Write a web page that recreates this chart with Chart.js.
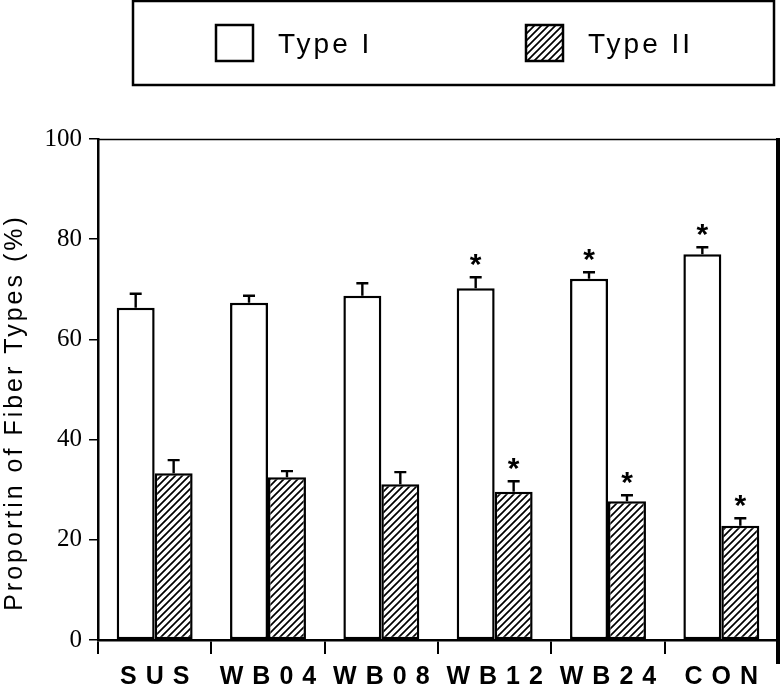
<!DOCTYPE html>
<html>
<head>
<meta charset="utf-8">
<script src="https://cdn.jsdelivr.net/npm/chart.js@4.4.1/dist/chart.umd.min.js"></script>
<style>
  html, body { margin: 0; padding: 0; background: #fff; }
  #wrap { width: 783px; height: 688px; }
</style>
</head>
<body>
<div id="wrap"><canvas id="c" width="783" height="688"></canvas></div>
<script>
const categories = ['SUS', 'WB04', 'WB08', 'WB12', 'WB24', 'CON'];
const seriesNames = ['Type I', 'Type II'];
const typeI = [66.3, 67.3, 68.7, 70.2, 72.1, 77.0];
const typeIErr = [2.8, 1.4, 2.5, 2.2, 1.3, 1.4];
const typeII = [33.3, 32.5, 31.1, 29.6, 27.7, 22.8];
const typeIIErr = [2.6, 1.2, 2.4, 2.1, 1.2, 1.5];
const sigI = [false, false, false, true, true, true];
const sigII = [false, false, false, true, true, true];
const yTicks = [0, 20, 40, 60, 80, 100];
const yTitle = 'Proportin of Fiber Types (%)';

function hatch() {
  const s = 7;
  const c = document.createElement('canvas');
  c.width = s; c.height = s;
  const g = c.getContext('2d');
  g.fillStyle = '#fff';
  g.fillRect(0, 0, s, s);
  g.strokeStyle = '#000';
  g.lineWidth = 1.7;
  g.beginPath();
  g.moveTo(-1, s + 1); g.lineTo(s + 1, -1);
  g.moveTo(-1, 1); g.lineTo(1, -1);
  g.moveTo(s - 1, s + 1); g.lineTo(s + 1, s - 1);
  g.stroke();
  return g.createPattern(c, 'repeat');
}
const hatchPattern = hatch();
const errs = [typeIErr, typeIIErr];
const sigs = [sigI, sigII];

const decor = {
  id: 'decor',
  afterDraw(chart) {
    const ctx = chart.ctx;
    const ys = chart.scales.y, xs = chart.scales.x;
    const area = chart.chartArea;
    ctx.save();
    ctx.strokeStyle = '#000';
    ctx.fillStyle = '#000';

    // top frame line and right thick line
    ctx.lineWidth = 1.5;
    ctx.beginPath();
    ctx.moveTo(area.left, area.top + 0.5);
    ctx.lineTo(area.right, area.top + 0.5);
    ctx.stroke();
    ctx.lineWidth = 4;
    ctx.beginPath();
    ctx.moveTo(area.right, area.top - 1);
    ctx.lineTo(area.right, area.bottom + 24);
    ctx.stroke();

    // error bars and stars
    chart.data.datasets.forEach((ds, di) => {
      const meta = chart.getDatasetMeta(di);
      meta.data.forEach((el, i) => {
        const top = ys.getPixelForValue(ds.data[i] + errs[di][i]);
        ctx.lineWidth = 2.4;
        ctx.beginPath();
        ctx.moveTo(el.x, el.y);
        ctx.lineTo(el.x, top);
        ctx.moveTo(el.x - 6, top);
        ctx.lineTo(el.x + 6, top);
        ctx.stroke();
        if (sigs[di][i]) {
          ctx.font = 'bold 30px "Liberation Sans", Arial, sans-serif';
          ctx.textAlign = 'center';
          ctx.textBaseline = 'alphabetic';
          try { ctx.letterSpacing = '0px'; } catch (e) {}
          ctx.fillText('*', el.x, top - 21 + 18);
        }
      });
    });

    // x category labels
    ctx.font = 'bold 25px "Liberation Sans", Arial, sans-serif';
    ctx.textBaseline = 'middle';
    ctx.textAlign = 'left';
    const ls = 9;
    try { ctx.letterSpacing = ls + 'px'; } catch (e) {}
    categories.forEach((c, i) => {
      const cx = xs.getPixelForValue(i);
      const w = ctx.measureText(c).width - ls;
      ctx.fillText(c, cx - w / 2, 677);
    });

    // y title
    ctx.font = '25px "Liberation Sans", Arial, sans-serif';
    const ls2 = 3;
    try { ctx.letterSpacing = ls2 + 'px'; } catch (e) {}
    ctx.translate(15, 414);
    ctx.rotate(-Math.PI / 2);
    const tw = ctx.measureText(yTitle).width - ls2;
    ctx.textBaseline = 'middle';
    ctx.fillText(yTitle, -tw / 2, 0);
    ctx.setTransform(1, 0, 0, 1, 0, 0);

    // legend box
    ctx.lineWidth = 2.5;
    ctx.strokeRect(133, 1, 641, 84);
    const legendX = [216, 526];
    chart.data.datasets.forEach((ds, di) => {
      const x0 = legendX[di];
      ctx.fillStyle = ds.backgroundColor;
      ctx.fillRect(x0, 25, 37, 36);
      ctx.lineWidth = 2.5;
      ctx.strokeRect(x0, 25, 37, 36);
      ctx.fillStyle = '#000';
      ctx.font = '28px "Liberation Sans", Arial, sans-serif';
      try { ctx.letterSpacing = '3px'; } catch (e) {}
      ctx.textBaseline = 'alphabetic';
      ctx.fillText(ds.label, x0 + 62, 53);
    });
    ctx.restore();
  }
};

new Chart(document.getElementById('c'), {
  type: 'bar',
  data: {
    labels: categories,
    datasets: [
      { label: seriesNames[0], data: typeI, backgroundColor: '#ffffff', borderColor: '#000', borderWidth: 2.5, borderSkipped: false },
      { label: seriesNames[1], data: typeII, backgroundColor: hatchPattern, borderColor: '#000', borderWidth: 2.5, borderSkipped: false }
    ]
  },
  options: {
    responsive: false,
    animation: false,
    devicePixelRatio: 1,
    layout: { padding: { top: 139, right: 5, left: 0, bottom: 0 } },
    datasets: { bar: { categoryPercentage: 0.67, barPercentage: 1.0 } },
    plugins: { legend: { display: false }, tooltip: { enabled: false } },
    scales: {
      x: {
        offset: true,
        grid: { offset: true, drawOnChartArea: false, drawTicks: true, tickLength: 14, color: '#000', lineWidth: 2 },
        border: { display: true, color: '#000', width: 2.5 },
        ticks: { color: 'rgba(0,0,0,0)', maxRotation: 0, autoSkip: false, font: { size: 12 } },
        afterFit(s) { s.height = 48; }
      },
      y: {
        min: 0, max: 100,
        afterBuildTicks(s) { s.ticks = yTicks.map(v => ({ value: v })); },
        grid: { drawOnChartArea: false, drawTicks: true, tickLength: 9, color: '#000', lineWidth: 1.5 },
        border: { display: true, color: '#000', width: 2.5 },
        ticks: { color: '#000', padding: 7, font: { family: '"Liberation Serif", "Times New Roman", serif', size: 25 } },
        afterFit(s) { s.width = 98; }
      }
    }
  },
  plugins: [decor]
});
</script>
</body>
</html>
